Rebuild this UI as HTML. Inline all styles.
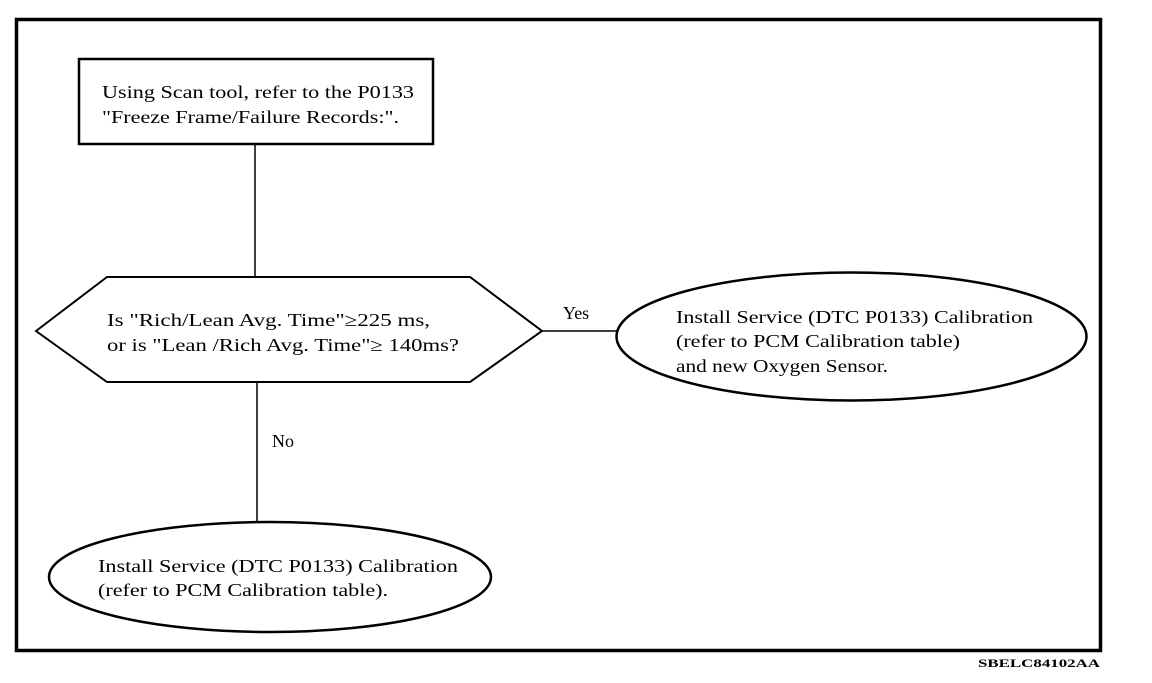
<!DOCTYPE html>
<html><head><style>
body{margin:0;background:#fff;}
svg text{font-family:"Liberation Serif",serif;font-size:18px;fill:#000;}
</style></head><body>
<svg width="1152" height="678" xmlns="http://www.w3.org/2000/svg">
<rect x="16.5" y="19.5" width="1084" height="631" fill="none" stroke="#000" stroke-width="3.5"/>
<rect x="79" y="59" width="354" height="85" fill="none" stroke="#000" stroke-width="2.5"/>
<line x1="255" y1="144" x2="255" y2="277" stroke="#000" stroke-width="1.5"/>
<polygon points="36,331 107,277 470,277 542,331 470,382 107,382" fill="none" stroke="#000" stroke-width="2"/>
<line x1="257" y1="382" x2="257" y2="522" stroke="#000" stroke-width="1.5"/>
<line x1="542" y1="331" x2="617" y2="331" stroke="#000" stroke-width="1.5"/>
<ellipse cx="851.5" cy="336.5" rx="235" ry="64" fill="none" stroke="#000" stroke-width="2.5"/>
<ellipse cx="270" cy="577" rx="221" ry="55" fill="none" stroke="#000" stroke-width="2.5"/>
<text x="102" y="98" textLength="312" lengthAdjust="spacingAndGlyphs">Using Scan tool, refer to the P0133</text>
<text x="102" y="123" textLength="297" lengthAdjust="spacingAndGlyphs">"Freeze Frame/Failure Records:".</text>
<text x="107" y="326" textLength="323" lengthAdjust="spacingAndGlyphs">Is "Rich/Lean Avg. Time"≥225 ms,</text>
<text x="107" y="351" textLength="352" lengthAdjust="spacingAndGlyphs">or is "Lean /Rich Avg. Time"≥ 140ms?</text>
<text x="563" y="319">Yes</text>
<text x="272" y="447">No</text>
<text x="676" y="323" textLength="357" lengthAdjust="spacingAndGlyphs">Install Service (DTC P0133) Calibration</text>
<text x="676" y="347" textLength="284" lengthAdjust="spacingAndGlyphs">(refer to PCM Calibration table)</text>
<text x="676" y="372" textLength="212" lengthAdjust="spacingAndGlyphs">and new Oxygen Sensor.</text>
<text x="98" y="572" textLength="360" lengthAdjust="spacingAndGlyphs">Install Service (DTC P0133) Calibration</text>
<text x="98" y="596" textLength="290" lengthAdjust="spacingAndGlyphs">(refer to PCM Calibration table).</text>
<text x="978" y="667" textLength="122" lengthAdjust="spacingAndGlyphs" style="font-size:12px;font-weight:bold">SBELC84102AA</text>
</svg>
</body></html>
